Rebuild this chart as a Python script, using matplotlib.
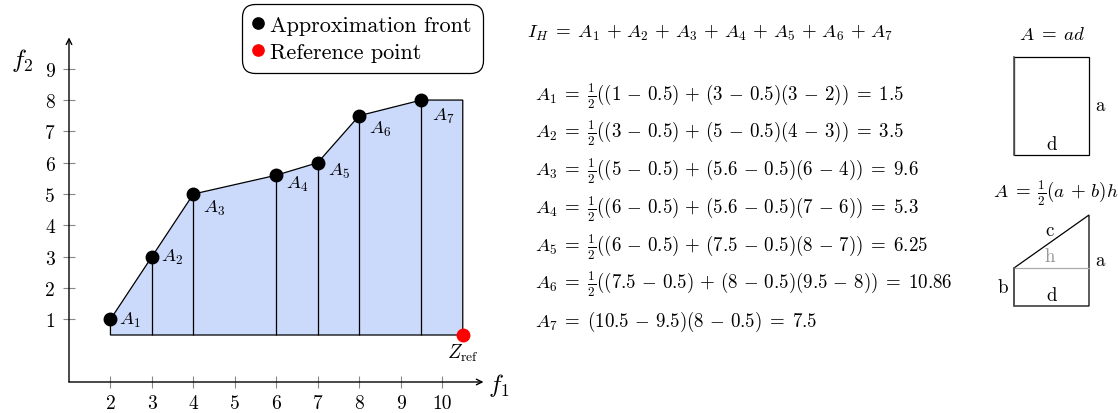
import matplotlib
matplotlib.use("Agg")
import matplotlib.pyplot as plt
from matplotlib.patches import Rectangle, Polygon

plt.rcParams["font.family"] = ["cmr10"]
plt.rcParams["mathtext.fontset"] = "cm"
plt.rcParams["axes.formatter.use_mathtext"] = True

# Approximation front (f1, f2) and the reference point
front_f1 = [2, 3, 4, 6, 7, 8, 9.5]
front_f2 = [1, 3, 5, 5.6, 6, 7.5, 8]
ref_f1 = 10.5
ref_f2 = 0.5

x_ticks = [2, 3, 4, 5, 6, 7, 8, 9, 10]
y_ticks = [1, 2, 3, 4, 5, 6, 7, 8, 9]

# Area terms: (first height, second height, right f1, left f1, result)
area_terms = [
    ("1", "3", "3", "2", "1.5"),
    ("3", "5", "4", "3", "3.5"),
    ("5", "5.6", "6", "4", "9.6"),
    ("6", "5.6", "7", "6", "5.3"),
    ("6", "7.5", "8", "7", "6.25"),
    ("7.5", "8", "9.5", "8", "10.86"),
]
last_term = ("10.5", "9.5", "8", "7.5")

W, H = 1118, 414
fig = plt.figure(figsize=(W / 100, H / 100), dpi=100)

# main plot, placed in pixel units
x0, x1, y0, y1 = 69, 483.5, 383, 38.4
ax = fig.add_axes([x0 / W, 1 - y0 / H, (x1 - x0) / W, (y0 - y1) / H])
ax.set_xlim(1, 11)
ax.set_ylim(-1, 10)
for s in ax.spines.values():
    s.set_visible(False)
ax.patch.set_visible(False)

# dominated region
poly_x = [front_f1[0]] + front_f1 + [ref_f1, ref_f1]
poly_y = [ref_f2] + front_f2 + [front_f2[-1], ref_f2]
ax.fill(poly_x, poly_y, facecolor="#cbd9fb", edgecolor="black", lw=0.9, zorder=1)
ax.vlines(front_f1[1:], ref_f2, front_f2[1:], colors="black", lw=0.9, zorder=2)

ax.plot(front_f1, front_f2, "o", color="black", ms=9, label="Approximation front", zorder=4)
ax.plot([ref_f1], [ref_f2], "o", color="red", ms=9, label="Reference point", zorder=4)

label_offsets = [(9, 0), (9, 0), (10, -13), (10, -8), (10, -8), (10, -13), (11, -15)]
for i, (fx, fy) in enumerate(zip(front_f1, front_f2)):
    ax.annotate(rf"$A_{i + 1}$", (fx, fy), xytext=label_offsets[i],
                textcoords="offset pixels", ha="left", va="center", fontsize=13.5)
ax.annotate(r"$Z_{\mathrm{ref}}$", (ref_f1, ref_f2), xytext=(0, -17),
            textcoords="offset pixels", ha="center", va="center", fontsize=14)

# axes with arrows
ax.annotate("", xy=(11, -1), xytext=(1, -1),
            arrowprops=dict(arrowstyle="->", lw=1, color="black", shrinkA=0, shrinkB=0))
ax.annotate("", xy=(1, 10), xytext=(1, -1),
            arrowprops=dict(arrowstyle="->", lw=1, color="black", shrinkA=0, shrinkB=0))

ax.set_xticks(x_ticks)
ax.set_yticks(y_ticks)
ax.set_xticklabels([str(v) for v in x_ticks])
ax.set_yticklabels([str(v) for v in y_ticks])
ax.tick_params(axis="both", direction="inout", length=8, width=0.8,
               color="#888888", labelsize=14)
ax.tick_params(axis="x", pad=5)
ax.tick_params(axis="y", pad=6)

leg = ax.legend(loc="upper right", bbox_to_anchor=(483 / W, 1 - 5 / H),
                bbox_transform=fig.transFigure, borderaxespad=0, fontsize=16,
                handlelength=0.5, handletextpad=0.3, borderpad=0.5,
                labelspacing=0.36, markerscale=0.9, fancybox=True,
                framealpha=1, edgecolor="black")
leg.get_frame().set_linewidth(0.9)
leg.get_frame().set_boxstyle("round", pad=0, rounding_size=0.6)

# overlay in pixel coordinates for text and sketches
ov = fig.add_axes([0, 0, 1, 1])
ov.set_xlim(0, W)
ov.set_ylim(H, 0)
ov.axis("off")

ov.text(22, 60, r"$f_2$", fontsize=18, ha="center", va="center")
ov.text(499, 386, r"$f_1$", fontsize=18, ha="center", va="center")

P = r"\,+\,"
M = r"\,-\,"
E = r"\;=\;"
FS = 13.6
ov.text(527, 33, "$I_H" + E + P.join(f"A_{k}" for k in range(1, 8)) + "$",
        fontsize=FS, ha="left", va="center")
line_y = 96
for i, (a, b, xr, xl, res) in enumerate(area_terms):
    s = (f"$A_{i + 1}{E}\\frac{{1}}{{2}}(({a}{M}0.5){P}({b}{M}0.5)({xr}{M}{xl})){E}{res}$")
    ov.text(535, line_y + i * 37.7, s, fontsize=FS, ha="left", va="center")
r7 = (f"$A_7{E}({last_term[0]}{M}{last_term[1]})({last_term[2]}{M}0.5){E}{last_term[3]}$")
ov.text(535, line_y + 6 * 37.7, r7, fontsize=FS, ha="left", va="center")

# rectangle sketch
ov.text(1052, 35, "$A" + E + "ad$", fontsize=FS, ha="center", va="center")
ov.add_patch(Rectangle((1014, 58), 75, 98, fill=False, edgecolor="black", lw=0.9))
ov.plot([1014, 1014], [58, 156], color="#555555", lw=1.2)
ov.text(1100, 106, "a", fontsize=FS, ha="center", va="center")
ov.text(1052, 145, "d", fontsize=FS, ha="center", va="center")

# trapezoid sketch
ov.text(1056, 193, "$A" + E + r"\frac{1}{2}(a" + P + "b)h$", fontsize=FS,
        ha="center", va="center")
ov.plot([1014, 1089], [269, 269], color="#aaaaaa", lw=0.9)
ov.add_patch(Polygon([(1014, 269), (1014, 307), (1089, 307), (1089, 216)],
                     closed=True, fill=False, edgecolor="black", lw=0.9))
ov.plot([1014, 1014], [269, 307], color="#555555", lw=1.2)
ov.text(1050, 231, "c", fontsize=FS, ha="center", va="center")
ov.text(1050, 257, "h", fontsize=FS, ha="center", va="center", color="#999999")
ov.text(1100, 261, "a", fontsize=FS, ha="center", va="center")
ov.text(1003, 288, "b", fontsize=FS, ha="center", va="center")
ov.text(1052, 296, "d", fontsize=FS, ha="center", va="center")

fig.savefig("out.png", dpi=100)
